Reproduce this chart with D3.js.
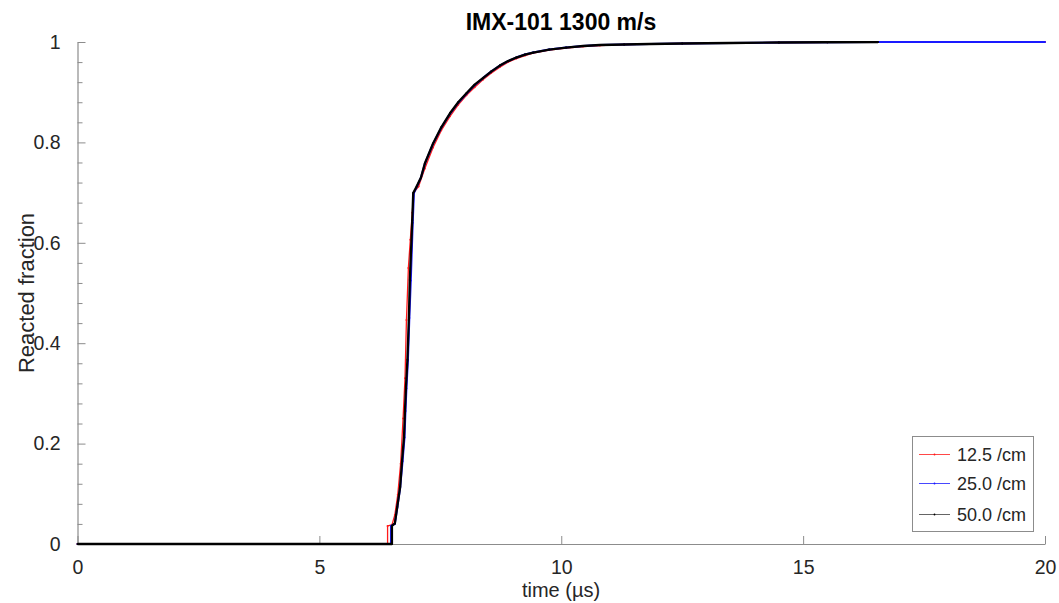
<!DOCTYPE html>
<html>
<head>
<meta charset="utf-8">
<script src="https://cdn.jsdelivr.net/npm/d3@7"></script>
<style>
  html, body { margin: 0; padding: 0; background: #fff; }
  svg { display: block; font-family: "Liberation Sans", Arial, Helvetica, sans-serif; }
</style>
</head>
<body>
<svg id="chart" width="1059" height="603"></svg>
<script>
// ---- data ----
const chartTitle = "IMX-101 1300 m/s";
const xLabel = "time (\u00b5s)";
const yLabel = "Reacted fraction";
const xTicks = [0, 5, 10, 15, 20];
const yTicks = [0, 0.2, 0.4, 0.6, 0.8, 1];
const yMinorTicks = [0.04,0.08,0.12,0.16,0.24,0.28,0.32,0.36,0.44,0.48,0.52,0.56,0.64,0.68,0.72,0.76,0.84,0.88,0.92,0.96];
const seriesNames = ["12.5 /cm", "25.0 /cm", "50.0 /cm"];

const redT = [0,0.5,1,1.5,2,2.5,3,3.5,4,4.5,5,5.5,6,6.41,6.41,6.50,6.56,6.62,6.68,6.73,6.77,6.80,6.84,6.88,6.92,6.95,7.05,7.18,7.35,7.52,7.70,7.87,8.04,8.21,8.38,8.55,8.73,8.90,9.07,9.25,9.42,9.75,10.1,10.45,10.8,11.3,11.83,12.5,13.5,14.5,15.5,16.5,17.5,18.5,19.5,20];
const redY = [0,0,0,0,0,0,0,0,0,0,0,0,0,0,0.036,0.038,0.058,0.098,0.16,0.25,0.33,0.446,0.55,0.606,0.66,0.70,0.712,0.748,0.790,0.824,0.852,0.875,0.894,0.910,0.925,0.938,0.950,0.960,0.967,0.973,0.978,0.984,0.988,0.991,0.993,0.995,0.996,0.997,0.998,0.999,0.9995,0.9998,0.9999,0.9999,1,1];

const blueT = [0,0.5,1,1.5,2,2.5,3,3.5,4,4.5,5,5.5,6,6.48,6.48,6.56,6.61,6.67,6.72,6.76,6.78,6.80,6.83,6.86,6.89,6.93,6.955,7.02,7.10,7.18,7.35,7.52,7.70,7.87,8.04,8.21,8.38,8.55,8.73,8.90,9.07,9.25,9.42,9.75,10.1,10.45,10.8,11.3,11.83,12.5,13.5,14.5,15.5,16.5,17.5,18.5,19.5,20];
const blueY = [0,0,0,0,0,0,0,0,0,0,0,0,0,0,0.036,0.040,0.072,0.112,0.165,0.212,0.265,0.31,0.365,0.45,0.525,0.640,0.699,0.713,0.730,0.757,0.797,0.829,0.857,0.879,0.897,0.914,0.928,0.941,0.953,0.962,0.969,0.975,0.979,0.985,0.989,0.992,0.994,0.995,0.996,0.997,0.998,0.999,0.9995,0.9998,0.9999,0.9999,1,1];

const blackT = [0,0.5,1,1.5,2,2.5,3,3.5,4,4.5,5,5.5,6,6.50,6.50,6.56,6.61,6.67,6.71,6.75,6.77,6.79,6.82,6.85,6.87,6.92,6.94,7.01,7.10,7.18,7.35,7.52,7.70,7.87,8.04,8.21,8.38,8.55,8.73,8.90,9.07,9.25,9.42,9.75,10.1,10.45,10.8,11.3,11.83,12.5,13.5,14.5,15.5,16.55];
const blackY = [0,0,0,0,0,0,0,0,0,0,0,0,0,0,0.036,0.041,0.074,0.114,0.167,0.214,0.267,0.313,0.367,0.45,0.526,0.645,0.699,0.712,0.730,0.758,0.798,0.830,0.858,0.880,0.898,0.915,0.928,0.941,0.953,0.962,0.969,0.975,0.979,0.985,0.989,0.992,0.994,0.995,0.996,0.997,0.998,0.999,0.9995,0.9998];

const seriesColors = ["#ff1a1a", "#1a1aff", "#000000"];
const seriesWidths = [1.3, 2.0, 2.3];

// ---- chart ----
const svg = d3.select("#chart");
const x = d3.scaleLinear().domain([0, 20]).range([77.5, 1045]);
const y = d3.scaleLinear().domain([0, 1]).range([544, 42]);
const axisColor = "#8c8c8c";
const textColor = "#262626";

const series = [
  {name: seriesNames[0], t: redT, v: redY},
  {name: seriesNames[1], t: blueT, v: blueY},
  {name: seriesNames[2], t: blackT, v: blackY}
];

// axes
const gx = svg.append("g").attr("transform", `translate(0,${y(0)})`)
  .call(d3.axisBottom(x).tickValues(xTicks).tickFormat(d3.format("d")).tickSizeInner(-8).tickSizeOuter(0).tickPadding(16));
const gyMinor = svg.append("g").attr("transform", `translate(${x(0)},0)`)
  .call(d3.axisLeft(y).tickValues(yMinorTicks).tickFormat("").tickSizeInner(-5).tickSizeOuter(0));
const gy = svg.append("g").attr("transform", `translate(${x(0)},0)`)
  .call(d3.axisLeft(y).tickValues(yTicks).tickFormat(d => d === 0 || d === 1 ? d3.format("d")(d) : d3.format(".1f")(d)).tickSizeInner(-8).tickSizeOuter(0).tickPadding(17));

[gx, gy, gyMinor].forEach(g => {
  g.select(".domain").attr("stroke", axisColor).attr("stroke-width", 1.2);
  g.selectAll(".tick line").attr("stroke", axisColor).attr("stroke-width", 1);
  g.selectAll(".tick text").attr("fill", textColor).style("font-size", "19.5px")
    .style("font-family", "'Liberation Sans', Arial, sans-serif");
});
gyMinor.select(".domain").remove();

// lines
const line = d3.line().x(d => x(d[0])).y(d => y(d[1]));
series.forEach((s, i) => {
  const pts = s.t.map((t, k) => [t, s.v[k]]);
  svg.append("path").datum(pts)
    .attr("fill", "none")
    .attr("stroke", seriesColors[i])
    .attr("stroke-width", seriesWidths[i])
    .attr("stroke-linejoin", "round")
    .attr("d", line);
  svg.append("g").selectAll("circle").data(pts).join("circle")
    .attr("cx", d => x(d[0])).attr("cy", d => y(d[1])).attr("r", 1)
    .attr("fill", seriesColors[i]);
});

// title
svg.append("text").attr("x", 561).attr("y", 30).attr("text-anchor", "middle")
  .attr("fill", "#000").style("font-size", "23px").style("font-weight", "bold")
  .text(chartTitle);

// axis labels
svg.append("text").attr("x", 561).attr("y", 597).attr("text-anchor", "middle")
  .attr("fill", textColor).style("font-size", "20px").text(xLabel);
svg.append("text").attr("transform", "translate(34,293) rotate(-90)").attr("text-anchor", "middle")
  .attr("fill", textColor).style("font-size", "22px").text(yLabel);

// legend
const lg = svg.append("g");
lg.append("rect").attr("x", 912.5).attr("y", 436.5).attr("width", 121).attr("height", 95)
  .attr("fill", "#fff").attr("stroke", axisColor).attr("stroke-width", 1);
const rowsY = [454.5, 483.5, 514.5];
series.forEach((s, i) => {
  lg.append("line").attr("x1", 919).attr("x2", 950).attr("y1", rowsY[i]).attr("y2", rowsY[i])
    .attr("stroke", seriesColors[i]).attr("stroke-width", 1).attr("opacity", i === 2 ? 0.6 : 0.8);
  lg.append("circle").attr("cx", 934.5).attr("cy", rowsY[i]).attr("r", 0.9).attr("fill", seriesColors[i]);
  lg.append("text").attr("x", 957).attr("y", rowsY[i]).attr("dy", "0.35em")
    .attr("fill", textColor).style("font-size", "18px").text(s.name);
});
</script>
</body>
</html>
